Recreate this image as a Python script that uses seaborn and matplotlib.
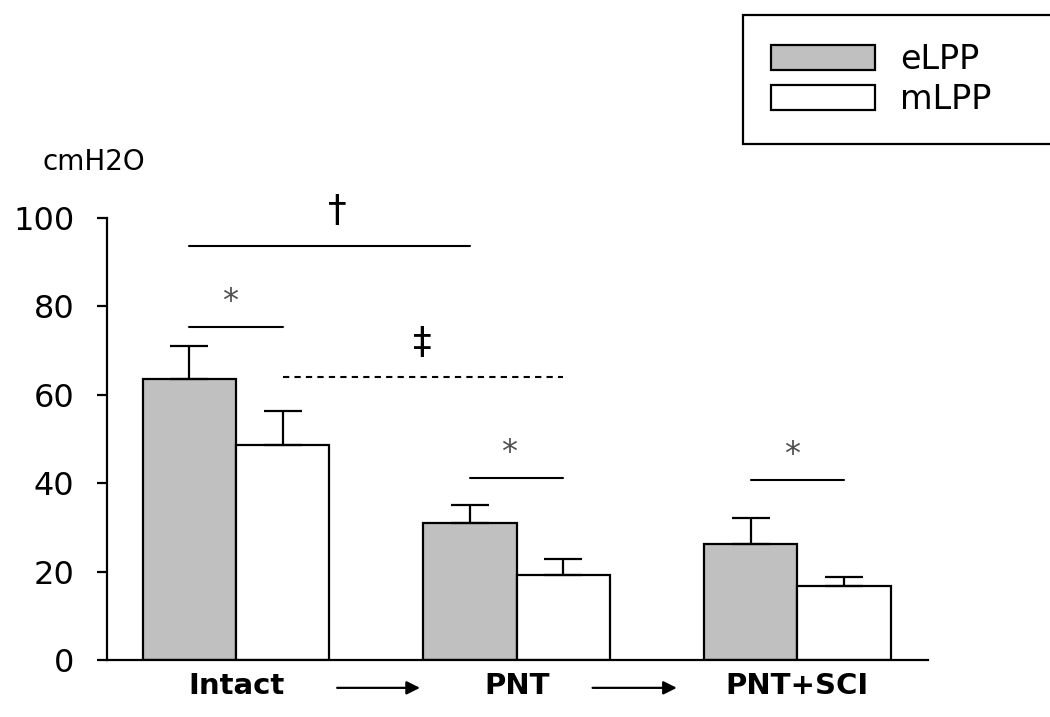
import matplotlib
matplotlib.use("Agg")
import matplotlib.pyplot as plt
import matplotlib.transforms as mtransforms
import seaborn as sns
import pandas as pd

categories = ["Intact", "PNT", "PNT+SCI"]
series = ["eLPP", "mLPP"]
elpp = [63.6, 31.0, 26.2]
elpp_err = [7.4, 4.1, 5.9]
mlpp = [48.6, 19.2, 16.7]
mlpp_err = [7.7, 3.7, 2.1]
y_ticks = [0, 20, 40, 60, 80, 100]
unit_label = "cmH2O"

sns.set_theme(style="ticks")
plt.rcParams["font.family"] = ["DejaVu Sans"]
plt.rcParams["text.color"] = "black"
plt.rcParams["axes.labelcolor"] = "black"
plt.rcParams["xtick.color"] = "black"
plt.rcParams["ytick.color"] = "black"
plt.rcParams["legend.labelcolor"] = "black"

df = pd.DataFrame({
    "group": categories * 2,
    "series": [series[0]] * 3 + [series[1]] * 3,
    "value": elpp + mlpp,
})

fig = plt.figure(figsize=(10.5, 7.17), dpi=100)
ax = fig.add_axes([107 / 1050, 1 - 660 / 717, (928 - 107) / 1050, (660 - 218) / 717])

sns.barplot(data=df, x="group", y="value", hue="series", order=categories,
            hue_order=series, palette=["#c0c0c0", "#ffffff"], width=0.665,
            errorbar=None, edgecolor="black", linewidth=1.6, saturation=1,
            ax=ax, legend=True)

errs = [elpp_err, mlpp_err]
centers = []
for cont, err in zip(ax.containers, errs):
    cx = []
    for p, e in zip(cont.patches, err):
        x = p.get_x() + p.get_width() / 2
        cx.append(x)
        ax.errorbar([x], [p.get_height()], yerr=[[0], [e]], fmt="none",
                    ecolor="black", elinewidth=1.6, capsize=14, capthick=1.6,
                    zorder=1)
    centers.append(cx)
e_c, m_c = centers

ax.set_xlim(-0.46, 2.465)
ax.set_ylim(0, 100)
ax.set_yticks(y_ticks)
ax.set_xlabel("")
ax.set_ylabel("")
sns.despine(ax=ax)
for s in ["left", "bottom"]:
    ax.spines[s].set_linewidth(1.6)
    ax.spines[s].set_color("black")
ax.tick_params(axis="y", direction="out", length=7.5, width=1.6, pad=16,
               labelsize=23, colors="black")
ax.tick_params(axis="x", length=0, pad=9, labelsize=21, colors="black")
for lab in ax.get_xticklabels():
    lab.set_fontweight("bold")
    lab.set_color("black")

# significance annotations
lw = 1.5
star_col = "#505050"
ax.plot([e_c[0], e_c[1]], [93.7, 93.7], color="black", lw=lw, clip_on=False)
ax.text(0.36, 101.5, "†", ha="center", va="center", fontsize=27,
        clip_on=False, color="black")
ax.plot([e_c[0], m_c[0]], [75.3, 75.3], color="black", lw=lw)
ax.text(-0.02, 81.0, "*", ha="center", va="center", fontsize=23, color=star_col)
ax.plot([m_c[0], m_c[1]], [64.0, 64.0], color="black", lw=lw,
        linestyle=(0, (3, 2.5)))
ax.text(0.663, 71.7, "‡", ha="center", va="center", fontsize=27, color="black")
ax.plot([e_c[1], m_c[1]], [41.2, 41.2], color="black", lw=lw)
ax.text(0.973, 47.0, "*", ha="center", va="center", fontsize=23, color=star_col)
ax.plot([e_c[2], m_c[2]], [40.7, 40.7], color="black", lw=lw)
ax.text(1.979, 46.5, "*", ha="center", va="center", fontsize=23, color=star_col)

# arrows between groups
trans = mtransforms.blended_transform_factory(ax.transData, ax.transAxes)
for x0, x1 in [(0.36, 0.655), (1.27, 1.57)]:
    ax.annotate("", xy=(x1, -0.063), xytext=(x0, -0.063), xycoords=trans,
                textcoords=trans,
                arrowprops=dict(arrowstyle="-|>", color="black", lw=1.6,
                                mutation_scale=20, shrinkA=0, shrinkB=0),
                annotation_clip=False)

fig.text(43 / 1050, 1 - 170 / 717, unit_label, fontsize=20, ha="left",
         va="baseline", color="black")

handles, labels = ax.get_legend_handles_labels()
ax.legend(handles, labels, loc="upper left",
          bbox_to_anchor=(743 / 1050, 1 - 143 / 717, 330 / 1050, 128 / 717),
          bbox_transform=fig.transFigure, mode="expand",
          frameon=True, fancybox=False, edgecolor="black", framealpha=1,
          fontsize=24, handlelength=3.1, handleheight=0.78, handletextpad=0.75,
          labelspacing=0.2, borderpad=0.85, borderaxespad=0)
leg = ax.get_legend()
leg.get_frame().set_linewidth(1.6)
for h in leg.legend_handles:
    h.set_edgecolor("black")
    h.set_linewidth(1.6)

fig.savefig("out.png", dpi=100)
